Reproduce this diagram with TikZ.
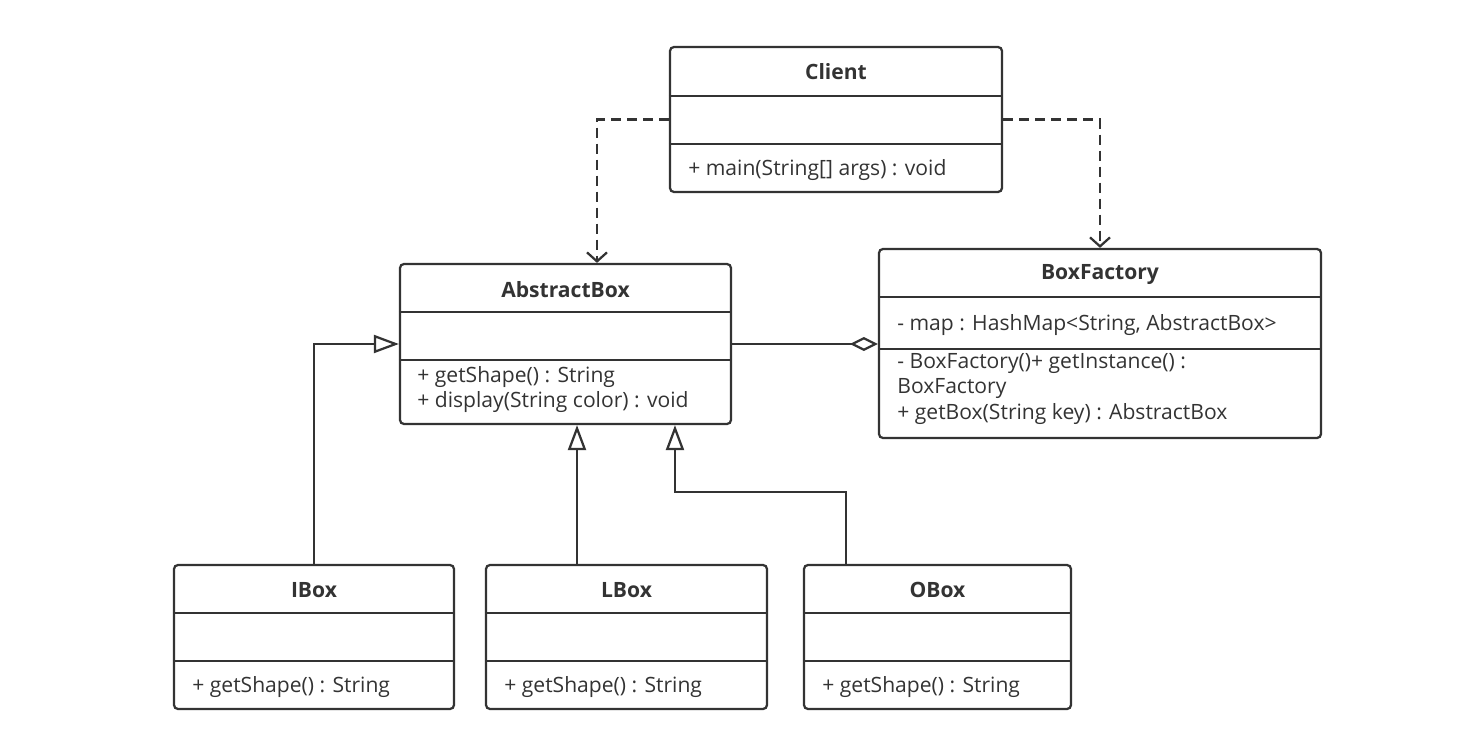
\documentclass[tikz,border=0pt]{standalone}
\usepackage{fontspec}
\setmainfont{Open Sans}
\usetikzlibrary{arrows.meta,calc,fit}

\definecolor{umlgray}{HTML}{333333}
\tikzset{
    classbox/.style={draw=umlgray, line width=0.045cm, rounded corners=0.08cm, inner sep=0pt},
    divider/.style={draw=umlgray, line width=0.045cm},
    title/.style={font=\bfseries\fontsize{12}{14}\selectfont, text=umlgray, inner sep=0pt},
    member/.style={font=\fontsize{12}{14.4}\selectfont, text=umlgray, anchor=west, inner sep=0pt, align=left},
    depends/.style={draw=umlgray, line width=0.045cm, dash pattern=on 0.2cm off 0.12cm,
        -{Straight Barb[length=0.18cm,width=0.4cm]}},
    inherits/.style={draw=umlgray, line width=0.045cm,
        -{Triangle[open,length=0.5cm,width=0.36cm,fill=white]}},
    aggregates/.style={draw=umlgray, line width=0.045cm,
        -{Diamond[open,length=0.56cm,width=0.28cm,fill=white]}}
}

\begin{document}
\begin{tikzpicture}[x=0.02cm, y=-0.02cm]
\useasboundingbox (0,0) rectangle (1482,747);

% client
\node[classbox, fit={(670,47) (1002,192)}] (client) {};
\draw[divider] (client.west |- 0,96) -- (client.east |- 0,96);
\draw[divider] (client.west |- 0,144) -- (client.east |- 0,144);
\node[title] (client-name) at (client.north |- 0,72) {Client};
\node[member] (client-ops) at (688,170) {+ main(String[] args) : void};

% abstract box
\node[classbox, fit={(400,264) (731,424)}] (abstract) {};
\draw[divider] (abstract.west |- 0,312) -- (abstract.east |- 0,312);
\draw[divider] (abstract.west |- 0,360) -- (abstract.east |- 0,360);
\node[title] (abstract-name) at (abstract.north |- 0,290) {AbstractBox};
\node[member] (abstract-ops) at (417,389.5) {+ getShape() : String\\+ display(String color) : void};

% factory
\node[classbox, fit={(879,249) (1321,438)}] (factory) {};
\draw[divider] (factory.west |- 0,297) -- (factory.east |- 0,297);
\draw[divider] (factory.west |- 0,349) -- (factory.east |- 0,349);
\node[title] (factory-name) at (factory.north |- 0,275) {BoxFactory};
\node[member] (factory-attr) at (897,325) {- map : HashMap<String, AbstractBox>};
\node[member] (factory-ops) at (897,389) {- BoxFactory()+ getInstance() :\\BoxFactory\\+ getBox(String key) : AbstractBox};

% concrete boxes
\foreach \cname/\ctitle/\xa/\xb in {ibox/IBox/174/454, lbox/LBox/486/767, obox/OBox/804/1071} {
    \node[classbox, fit={(\xa,565) (\xb,709)}] (\cname) {};
    \draw[divider] (\cname.west |- 0,613) -- (\cname.east |- 0,613);
    \draw[divider] (\cname.west |- 0,661) -- (\cname.east |- 0,661);
    \node[title] (\cname-name) at (\cname.north |- 0,590) {\ctitle};
    \node[member] (\cname-ops) at ($(\xa,687)+(18,0)$) {+ getShape() : String};
}

% relations
\draw[depends] (client.west) -| ([xshift=0.63cm]abstract.north);
\draw[depends] (client.east) -| (factory.north);
\draw[aggregates] (abstract.east) -- (abstract.east -| factory.west);
\draw[inherits] (ibox.north) |- (abstract.west);
\draw[inherits] ([xshift=-0.99cm]lbox.north) -- ([xshift=-0.99cm]lbox.north |- abstract.south);
\draw[inherits] ([xshift=-1.83cm]obox.north) -- ++(0,1.44cm) -| ([xshift=2.19cm]abstract.south);
\end{tikzpicture}
\end{document}
